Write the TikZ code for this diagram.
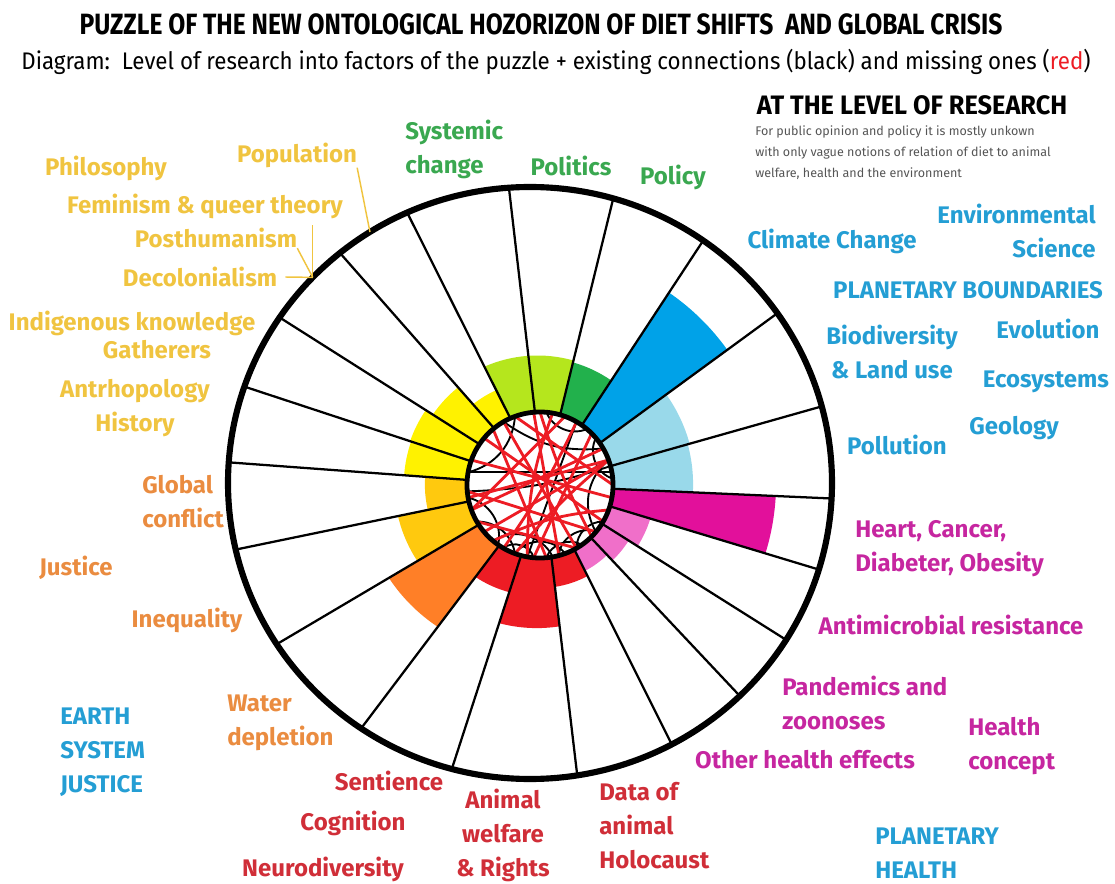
\documentclass[tikz,border=0pt]{standalone}
\usepackage{fontspec}
\setmainfont{Fira Sans}
\usepackage{graphicx}
\usetikzlibrary{calc}

% paint colours of the bars
\definecolor{paintlime}{HTML}{B5E61D}
\definecolor{paintgreen}{HTML}{22B14C}
\definecolor{paintblue}{HTML}{00A2E8}
\definecolor{paintsky}{HTML}{99D9EA}
\definecolor{paintmagenta}{HTML}{E2109B}
\definecolor{paintpink}{HTML}{F06FC9}
\definecolor{paintred}{HTML}{ED1C24}
\definecolor{paintorange}{HTML}{FF7F27}
\definecolor{paintgold}{HTML}{FFC90E}
\definecolor{paintyellow}{HTML}{FFF200}
% label colours
\definecolor{txtyellow}{RGB}{240,196,64}
\definecolor{txtgreen}{RGB}{58,168,80}
\definecolor{txtblue}{RGB}{36,158,212}
\definecolor{txtmagenta}{RGB}{198,38,160}
\definecolor{txtred}{RGB}{208,46,56}
\definecolor{txtorange}{RGB}{234,140,64}
\definecolor{notegray}{RGB}{85,85,85}

% bar between two spokes: from angle, to angle, length, colour
\newcommand{\levelbar}[4]{%
  \pgfmathsetmacro{\bart}{(#3-73)/227}%
  \pgfmathsetmacro{\barrx}{73+229*\bart}%
  \pgfmathsetmacro{\barry}{73+223*\bart}%
  \fill[#4] ($(ci)+(#1:73)$) arc[start angle=#1,end angle=#2,radius=73]
    -- ($(ci)!\bart!(co)+(#2:\barrx\space and \barry)$)
    arc[start angle=#2,end angle=#1,x radius=\barrx,y radius=\barry] -- cycle;}

\begin{document}
\begin{tikzpicture}[x=0.75pt,y=-0.75pt,
    spoke/.style={line width=1.7pt},
    rim/.style={line width=4.6pt},
    hub/.style={line width=3.6pt},
    missing/.style={paintred,line width=2.1pt},
    existing/.style={line width=1.4pt},
    pointer/.style={txtyellow,line width=1.1pt},
    lab/.style={inner sep=0pt,font=\fontsize{18}{25.5}\selectfont\bfseries},
    yel/.style={lab,text=txtyellow},
    grn/.style={lab,text=txtgreen},
    blu/.style={lab,text=txtblue},
    mag/.style={lab,text=txtmagenta},
    rd/.style={lab,text=txtred},
    org/.style={lab,text=txtorange}]
\useasboundingbox (0,0) rectangle (1115,884);

\coordinate (co) at (530,483);
\coordinate (ci) at (540,485);

% research level per factor
\foreach \p/\q/\r/\c in {-114/-94/130/paintlime, -94/-74/130/paintlime,
    -74/-55/128/paintgreen, -55/-35/236/paintblue, -35/-15/158/paintsky,
    -15/3/156/paintsky, 3/17/242/paintmagenta, 17/32/117/paintpink,
    32/46/106/paintpink, 46/62/98/paintpink, 62/81/104/paintred,
    81/105/145/paintred, 105/124/112/paintred, 124/147/174/paintorange,
    147/167/142/paintgold, 167/184/113/paintgold, 184/199/133/paintyellow,
    199/214/134/paintyellow, 214/231/126/paintyellow, 231/246/104/paintyellow}
  \levelbar{\p}{\q}{\r}{\c};

\foreach \a in {-94,-74,-55,-35,-15,3,17,32,46,62,81,105,124,147,167,184,199,214,231,246}
  \draw[spoke] ($(ci)+(\a:73)$) -- ($(co)+(\a:302 and 296)$);
\draw[rim] (co) ellipse[x radius=302,y radius=296];

% connections in the hub
\fill[white] (ci) circle[radius=73];
\begin{scope}
  \clip (ci) circle[radius=72];
  \foreach \p/\q/\b in {-10/190/0, -85/-50/45, -150/150/30, 70/110/55,
      30/60/45, 150/200/-35, -20/40/40, -120/-30/20, 100/-60/0,
      125/170/45, -170/-110/35, 80/130/50, 95/120/60, 40/75/55, -40/-5/50,
      175/-15/8, 110/150/40, 55/85/50}
    \draw[existing] ($(ci)+(\p:73)$) to[bend right=\b] ($(ci)+(\q:73)$);
  \foreach \p/\q/\b in {-20/170/0, -20/140/0, -20/110/5, -95/75/0, -120/60/0,
      -60/120/-5, -80/100/10, -140/30/0, -160/10/0, 160/-30/0, -110/0/0,
      130/20/-10, -130/85/0, -70/160/0, -90/45/5, 175/40/0, 60/150/0, -45/95/0}
    \draw[missing] ($(ci)+(\p:73)$) to[bend right=\b] ($(ci)+(\q:73)$);
\end{scope}
\draw[hub] (ci) circle[radius=73];

% headings
\node[font=\fontsize{22}{26}\selectfont\bfseries] (title) at (541,24)
  {\scalebox{0.84}[1]{PUZZLE OF THE NEW ONTOLOGICAL HOZORIZON OF DIET SHIFTS\ \ AND GLOBAL CRISIS}};
\node[font=\fontsize{18}{22}\selectfont] (subtitle) at (556,62)
  {\scalebox{0.93}[1]{Diagram:\ \ Level of research into factors of the puzzle + existing connections (black) and missing ones ({\color{paintred}red})}};
\node[font=\fontsize{20}{24}\selectfont\bfseries] (research) at (912,105)
  {\scalebox{0.95}[1]{AT THE LEVEL OF RESEARCH}};
\node[anchor=west,align=left,inner sep=0pt,text=notegray,
  font=\fontsize{9.4}{15.75}\selectfont] (note) at (755,153)
  {For public opinion and policy it is mostly unkown\\
   with only vague notions of relation of diet to animal\\
   welfare, health and the environment};

% society and culture
\node[yel] (population) at (297,155) {Population};
\node[yel] (philosophy) at (106,168) {Philosophy};
\node[yel] (feminism) at (205,206) {Feminism \& queer theory};
\node[yel] (posthuman) at (216,238) {Posthumanism};
\node[yel] (decolonial) at (200,277) {Decolonialism};
\node[yel] (indigenous) at (132,323) {Indigenous knowledge};
\node[yel] (gatherers) at (157,350) {Gatherers};
\node[yel,align=center] (anthropology) at (135,408) {Antrhopology\\History};
\coordinate (rimpop) at ($(co)+(-122:302 and 296)$);
\coordinate (rimdeco) at ($(co)+(-136:302 and 296)$);
\draw[pointer] (population.south east) -- (rimpop);
\draw[pointer] ([yshift=-5]feminism.south -| rimdeco) -- (rimdeco);
\draw[pointer] (posthuman.south east) -- (rimdeco);
\draw[pointer] ([xshift=6]decolonial.east) -- (rimdeco);

\node[org,anchor=west,align=left] (conflict) at (142,502) {Global\\conflict};
\node[org] (justice) at (76,568) {Justice};
\node[org] (inequality) at (187,620) {Inequality};
\node[org,anchor=west,align=left] (water) at (227,723) {Water\\depletion};
\node[blu,anchor=west,align=left] (earthjustice) at (60,752) {EARTH\\SYSTEM\\JUSTICE};

% animals
\node[rd] (sentience) at (389,781) {Sentience};
\node[rd] (cognition) at (353,823) {Cognition};
\node[rd] (neuro) at (323,869) {Neurodiversity};
\node[rd,align=center] (welfare) at (503,835) {Animal\\welfare\\\& Rights};
\node[rd,anchor=west,align=left] (holocaust) at (599,826) {Data of\\animal\\Holocaust};

% health
\node[mag,anchor=west,align=left] (heart) at (855,549) {Heart, Cancer,\\Diabeter, Obesity};
\node[mag] (amr) at (951,625) {Antimicrobial resistance};
\node[mag,anchor=west,align=left] (pandemics) at (782,703) {Pandemics and\\zoonoses};
\node[mag] (otherhealth) at (805,760) {Other health effects};
\node[mag,anchor=west,align=left] (healthconcept) at (968,746) {Health\\concept};
\node[blu,anchor=west,align=left] (planhealth) at (875,853) {PLANETARY\\HEALTH};

% environment
\node[blu] (pollution) at (897,445) {Pollution};
\node[blu] (geology) at (1014,428) {Geology};
\node[blu] (ecosystems) at (1046,382) {Ecosystems};
\node[blu] (evolution) at (1048,329) {Evolution};
\node[blu,align=center] (biodiversity) at (892,352) {Biodiversity\\\& Land use};
\node[blu] (boundaries) at (968,290) {PLANETARY BOUNDARIES};
\node[blu] (climate) at (832,241) {Climate Change};
\node[blu,anchor=east,align=right] (envscience) at (1096,231) {Environmental\\Science};

% politics
\node[grn,anchor=west,align=left] (systemic) at (405,149) {Systemic\\change};
\node[grn] (politics) at (571,166) {Politics};
\node[grn] (policy) at (673,177) {Policy};
\end{tikzpicture}
\end{document}
